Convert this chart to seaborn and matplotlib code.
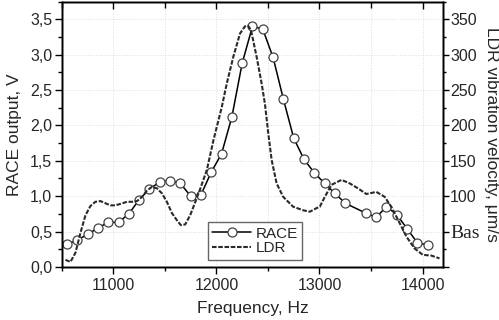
import numpy as np
import pandas as pd
import seaborn as sns
import matplotlib.pyplot as plt
from matplotlib.ticker import MultipleLocator

# RACE output (V), open circles
race_freq = [10550, 10650, 10750, 10850, 10950, 11050, 11150, 11250, 11350, 11450,
             11550, 11650, 11750, 11850, 11950, 12050, 12150, 12250, 12350, 12450,
             12550, 12650, 12750, 12850, 12950, 13050, 13150, 13250,
             13450, 13550, 13650, 13750, 13850, 13950, 14050]
race_v = [0.32, 0.38, 0.46, 0.55, 0.63, 0.63, 0.75, 0.95, 1.10, 1.20,
          1.22, 1.18, 1.00, 1.02, 1.34, 1.60, 2.12, 2.88, 3.40, 3.36,
          2.96, 2.37, 1.82, 1.52, 1.33, 1.18, 1.04, 0.90,
          0.76, 0.70, 0.85, 0.74, 0.54, 0.34, 0.31]

# LDR vibration velocity (um/s), dashed
ldr_freq = [10535, 10583, 10632, 10680, 10729, 10777, 10825, 10874, 10922, 10971,
            11019, 11067, 11132, 11181, 11229, 11278, 11326, 11374, 11423, 11471,
            11519, 11568, 11616, 11655, 11697, 11745, 11777, 11842, 11907, 11971,
            12052, 12100, 12164, 12229, 12277, 12306, 12335, 12390, 12439, 12471,
            12503, 12536, 12584, 12648, 12745, 12842, 12907, 12971, 13003, 13052,
            13117, 13214, 13294, 13374, 13455, 13552, 13633, 13697, 13778, 13843,
            13923, 14003, 14085, 14165]
ldr_v = [10, 7, 20, 48, 73, 86, 92, 93, 90, 87,
         87, 89, 92, 92, 93, 99, 108, 113, 111, 104,
         92, 76, 66, 59, 60, 73, 85, 110, 137, 179,
         226, 259, 297, 330, 340, 341, 335, 297, 259, 230,
         189, 151, 118, 99, 85, 80, 78, 83, 85, 99,
         116, 123, 118, 111, 103, 106, 99, 85, 62, 43,
         26, 17, 16, 12]

right_ticks = [0, 50, 100, 150, 200, 250, 300, 350]
right_labels = ['', 'Bas', '100', '150', '200', '250', '300', '350']
left_ticks = [0.0, 0.5, 1.0, 1.5, 2.0, 2.5, 3.0, 3.5]
left_labels = ['0,0', '0,5', '1,0', '1,5', '2,0', '2,5', '3,0', '3,5']
x_ticks = [11000, 12000, 13000, 14000]

sns.set_style("white")
plt.rcParams['font.family'] = ['Liberation Sans', 'DejaVu Sans']

fig = plt.figure(figsize=(4.99, 3.2), dpi=100)
ax = fig.add_axes([0.124, 0.166, 0.888 - 0.124, 0.995 - 0.166])
ax2 = ax.twinx()

sns.lineplot(x=race_freq, y=race_v, ax=ax, color='black', linewidth=1.1,
             marker='o', markersize=6.5, markerfacecolor='white',
             markeredgecolor='#444444', markeredgewidth=0.9, legend=False)
sns.lineplot(x=ldr_freq, y=ldr_v, ax=ax2, color='#2a2a2a', linewidth=1.5,
             linestyle=(0, (2.2, 0.8)), legend=False)

ax.set_xlim(10500, 14200)
ax.set_ylim(0, 3.75)
ax2.set_ylim(0, 375)

ax.set_xticks(x_ticks)
ax.set_xticklabels([str(t) for t in x_ticks])
ax.xaxis.set_minor_locator(MultipleLocator(500))
ax.set_yticks(left_ticks)
ax.set_yticklabels(left_labels)
ax.yaxis.set_minor_locator(MultipleLocator(0.25))
ax2.set_yticks(right_ticks)
ax2.set_yticklabels(right_labels)
ax2.yaxis.set_minor_locator(MultipleLocator(25))

ax.grid(True, which='both', axis='x', color='#dddddd', linestyle=':', linewidth=0.7)
ax.grid(True, which='major', axis='y', color='#dddddd', linestyle=':', linewidth=0.7)
ax.set_axisbelow(True)

ax.tick_params(axis='x', which='major', direction='out', length=5, width=1,
               labelsize=11.5, pad=3, bottom=True, top=False, color='black')
ax.tick_params(axis='x', which='minor', direction='out', length=3, width=1,
               bottom=True, top=False, color='black')
ax.tick_params(axis='y', which='major', direction='out', length=5, width=1,
               labelsize=11.5, pad=2, left=True, color='black')
ax.tick_params(axis='y', which='minor', direction='out', length=3, width=1,
               left=True, color='black')
ax2.tick_params(axis='y', which='major', direction='out', length=4, width=1,
                labelsize=11.5, pad=1, right=True, color='black')
ax2.tick_params(axis='y', which='minor', direction='out', length=2.5, width=1,
                right=True, color='black')

# inward ticks along the top
ax3 = ax.twiny()
ax3.set_xlim(ax.get_xlim())
ax3.set_xticks(x_ticks)
ax3.set_xticklabels([])
ax3.xaxis.set_minor_locator(MultipleLocator(500))
ax3.tick_params(axis='x', which='major', direction='in', length=5, width=1,
                top=True, labeltop=False, color='black')
ax3.tick_params(axis='x', which='minor', direction='in', length=4, width=1,
                top=True, color='black')

for lab in ax2.get_yticklabels():
    if lab.get_text() == 'Bas':
        lab.set_fontfamily('Liberation Serif')
        lab.set_fontsize(14)

for a in (ax, ax2, ax3):
    for s in a.spines.values():
        s.set_color('black')
        s.set_linewidth(1.0)

ax.set_xlabel('Frequency, Hz', fontsize=12.5, labelpad=6)
ax.set_ylabel('RACE output, V', fontsize=12.5, labelpad=6)
ax2.set_ylabel('LDR vibration velocity, \u03bcm/s', fontsize=12.5, rotation=270,
               labelpad=14)

h1 = ax.get_lines()[0]
h2 = ax2.get_lines()[0]
leg = ax3.legend([h1, h2], ['RACE', 'LDR'], loc='lower left',
                 bbox_to_anchor=(0.383, 0.026), fontsize=11, frameon=True,
                 fancybox=False, edgecolor='#666666', framealpha=1,
                 handlelength=2.5, handletextpad=0.3, labelspacing=0.05,
                 borderpad=0.3, borderaxespad=0)
leg.get_frame().set_linewidth(1.0)

fig.savefig('out.png', dpi=100)
plt.close(fig)
